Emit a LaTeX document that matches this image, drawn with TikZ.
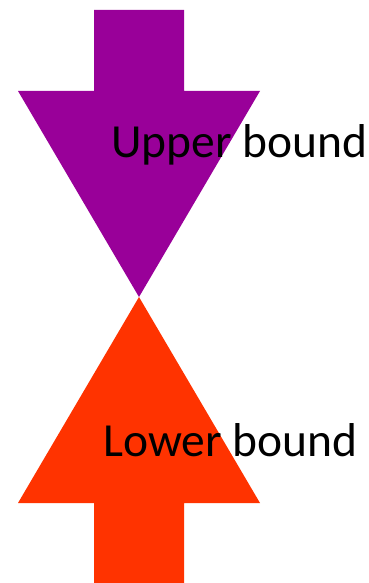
\documentclass[tikz,border=0pt]{standalone}
\usepackage{fontspec}
\setmainfont{Carlito}
\usepackage{tikz}
\usetikzlibrary{positioning}
\definecolor{bound-purple}{HTML}{990099}
\definecolor{bound-orange}{HTML}{FF3300}

\tikzset{
  boundlabel/.style={inner sep=0pt, anchor=base west, font=\fontsize{47.5}{52}\selectfont},
}

\begin{document}
\begin{tikzpicture}[x=1pt, y=-1pt, line join=miter]
  \useasboundingbox (0,0) rectangle (368,583);
  % upper bound arrow, pointing down
  \fill[bound-purple] (94,10) -- (184,10) -- (184,91) -- (260,91)
    -- (139,297) -- (18,91) -- (94,91) -- cycle;
  % lower bound arrow, pointing up
  \fill[bound-orange] (139,297) -- (260,503) -- (184,503) -- (184,583)
    -- (94,583) -- (94,503) -- (18,503) -- cycle;
  \node[boundlabel] (upper) at (111,157) {Upper bound};
  \node[boundlabel] (lower) at (103,456) {Lower bound};
\end{tikzpicture}
\end{document}
